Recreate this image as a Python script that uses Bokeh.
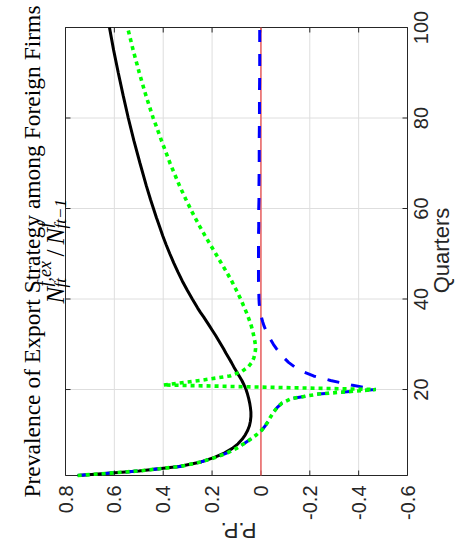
import math
from bokeh.plotting import figure
from bokeh.models import Range1d, Label
from bokeh.embed import file_html
from bokeh.resources import INLINE

# ---------------- data ----------------
quarters = list(range(1, 41)) + [42, 44, 46, 48, 50, 52, 54, 56, 58, 60, 62,
                                 65, 70, 75, 80, 85, 90, 95, 100]

series_black = [0.75, 0.50, 0.335, 0.245, 0.19, 0.148, 0.117, 0.094, 0.077, 0.064,
                0.054, 0.047, 0.043, 0.041, 0.041, 0.043, 0.046, 0.05, 0.055, 0.061,
                0.069, 0.078, 0.089, 0.10, 0.111, 0.121, 0.132, 0.143, 0.153, 0.164,
                0.175, 0.186, 0.198, 0.21, 0.222, 0.234, 0.247, 0.259, 0.27, 0.281,
                0.302, 0.322, 0.34, 0.357, 0.373, 0.388, 0.402, 0.415, 0.428, 0.44, 0.452,
                0.469, 0.495, 0.52, 0.543, 0.564, 0.584, 0.603, 0.62]

series_green = [0.75, 0.50, 0.33, 0.245, 0.185, 0.138, 0.10, 0.07, 0.043, 0.018,
                -0.003, -0.018, -0.03, -0.04, -0.052, -0.066, -0.086, -0.125, -0.235, -0.47,
                0.40, 0.25, 0.127, 0.078, 0.052, 0.037, 0.029, 0.024, 0.022, 0.023,
                0.026, 0.03, 0.034, 0.039, 0.045, 0.052, 0.059, 0.067, 0.075, 0.083,
                0.101, 0.12, 0.141, 0.163, 0.185, 0.207, 0.229, 0.25, 0.27, 0.289, 0.307,
                0.333, 0.372, 0.407, 0.441, 0.471, 0.498, 0.523, 0.546]

series_blue = [0.75, 0.50, 0.33, 0.245, 0.185, 0.138, 0.10, 0.07, 0.043, 0.018,
               -0.003, -0.018, -0.03, -0.04, -0.052, -0.066, -0.086, -0.125, -0.235, -0.47,
               -0.37, -0.285, -0.215, -0.17, -0.138, -0.113, -0.094, -0.078, -0.064, -0.051,
               -0.04, -0.03, -0.021, -0.013, -0.007, -0.002, 0.002, 0.005, 0.007, 0.008,
               0.009, 0.01, 0.01, 0.01, 0.01, 0.01, 0.01, 0.009, 0.009, 0.009, 0.008,
               0.008, 0.007, 0.007, 0.006, 0.006, 0.005, 0.005, 0.005]

pp_ticks = [0.8, 0.6, 0.4, 0.2, 0.0, -0.2, -0.4, -0.6]
pp_tick_labels = ["0.8", "0.6", "0.4", "0.2", "0", "-0.2", "-0.4", "-0.6"]
q_ticks = [20, 40, 60, 80, 100]
q_tick_labels = ["20", "40", "60", "80", "100"]

title_line1 = "Prevalence of Export Strategy among Foreign Firms"
x_label = "P.P."
y_label = "Quarters"

# ---------------- geometry ----------------
# The whole (rotated) chart is one frame; the axes box sits inside it.
W, H = 469, 550
BOX_L, BOX_R, BOX_T, BOX_B = 65, 407, 27, 475   # axes box in page pixels
PP_MAX, PP_MIN = 0.8, -0.6
Q_MIN, Q_MAX = 1, 100
px_per_pp = (BOX_R - BOX_L) / (PP_MAX - PP_MIN)
px_per_q = (BOX_B - BOX_T) / (Q_MAX - Q_MIN)

def pp_at(px):
    return PP_MAX - (px - BOX_L) / px_per_pp

def q_at(py):
    return Q_MAX - (py - BOX_T) / px_per_q

AX = "#262626"
GRID = "#dedede"
SANS = "Liberation Sans"
SERIF = "Liberation Serif"
TICK_PX = 5
d_pp = TICK_PX / px_per_pp
d_q = TICK_PX / px_per_q

p = figure(width=W, height=H, x_range=Range1d(pp_at(0), pp_at(W)),
           y_range=Range1d(q_at(H), q_at(0)), output_backend="svg",
           toolbar_location=None, title=None, min_border=0,
           x_axis_location=None, y_axis_location=None)
p.background_fill_color = "white"
p.border_fill_color = "white"
p.outline_line_color = None
p.grid.visible = False

n_pp, n_q = len(pp_ticks), len(q_ticks)

# grid lines
p.segment(x0=pp_ticks, x1=pp_ticks, y0=[Q_MIN] * n_pp, y1=[Q_MAX] * n_pp,
          line_color=GRID, line_width=1)
p.segment(x0=[PP_MAX] * n_q, x1=[PP_MIN] * n_q, y0=q_ticks, y1=q_ticks,
          line_color=GRID, line_width=1)

# axes box and inward ticks on all four sides
p.quad(left=[PP_MAX], right=[PP_MIN], bottom=[Q_MIN], top=[Q_MAX],
       fill_color=None, line_color=AX, line_width=1)
p.segment(x0=pp_ticks, x1=pp_ticks, y0=[Q_MIN] * n_pp, y1=[Q_MIN + d_q] * n_pp,
          line_color=AX, line_width=1)
p.segment(x0=pp_ticks, x1=pp_ticks, y0=[Q_MAX] * n_pp, y1=[Q_MAX - d_q] * n_pp,
          line_color=AX, line_width=1)
p.segment(x0=[PP_MAX] * n_q, x1=[PP_MAX - d_pp] * n_q, y0=q_ticks, y1=q_ticks,
          line_color=AX, line_width=1)
p.segment(x0=[PP_MIN] * n_q, x1=[PP_MIN + d_pp] * n_q, y0=q_ticks, y1=q_ticks,
          line_color=AX, line_width=1)

# ---------------- lines ----------------
p.line(series_black, quarters, line_color="black", line_width=3)
p.line([0, 0], [Q_MIN, Q_MAX], line_color="#eb6060", line_width=1.5)
p.line(series_blue, quarters, line_color="#0000ff", line_width=3, line_dash="12 12")
p.line(series_green, quarters, line_color="#00ff00", line_width=3.6, line_dash="4 4")

# ---------------- tick labels and axis labels (rotated like the chart) ----------------
for v, t in zip(pp_ticks, pp_tick_labels):
    p.add_layout(Label(x=v, y=q_at(BOX_B + 10), text=t, angle=math.pi / 2,
                       text_align="right", text_baseline="middle",
                       text_font=SANS, text_font_size="20px", text_color=AX))
for v, t in zip(q_ticks, q_tick_labels):
    p.add_layout(Label(x=pp_at(BOX_R + 13), y=v, text=t, angle=math.pi / 2,
                       text_align="center", text_baseline="middle",
                       text_font=SANS, text_font_size="20px", text_color=AX))

p.add_layout(Label(x=pp_at(441), y=q_at(250), text=y_label, angle=math.pi / 2,
                   text_align="center", text_baseline="middle",
                   text_font=SANS, text_font_size="22px", text_color=AX))
p.add_layout(Label(x=pp_at(238), y=q_at(530), text=x_label, angle=math.pi,
                   text_align="center", text_baseline="middle",
                   text_font=SANS, text_font_size="22px", text_color=AX))

# ---------------- title ----------------
p.add_layout(Label(x=pp_at(31), y=q_at(251), text=title_line1, angle=math.pi / 2,
                   text_align="center", text_baseline="alphabetic",
                   text_font=SERIF, text_font_size="23.5px", text_color="black"))

# second title line: N_{ft}^{f,ex} / N_{ft-1}^{f}
base_x = 55          # baseline (page x)
start_y = 303        # start of the expression (page y, text runs upward)
parts = [
    # text, advance(px), raise(px), size, style
    ("N", 0, 0, "25px", "italic"),
    ("f,ex", 17, 11, "18px", "italic"),
    ("ft", 16, -5, "17px", "italic"),
    ("/", 47, 0, "25px", "normal"),
    ("N", 59, 0, "25px", "italic"),
    ("f", 76, 11, "18px", "italic"),
    ("ft\u22121", 75, -5, "17px", "italic"),
]
for t, adv, rise, size, style in parts:
    p.add_layout(Label(x=pp_at(base_x - rise), y=q_at(start_y - adv), text=t,
                       angle=math.pi / 2, text_align="left", text_baseline="alphabetic",
                       text_font=SERIF, text_font_size=size, text_font_style=style,
                       text_color="black"))

open("out.html", "w").write(file_html(p, INLINE))
